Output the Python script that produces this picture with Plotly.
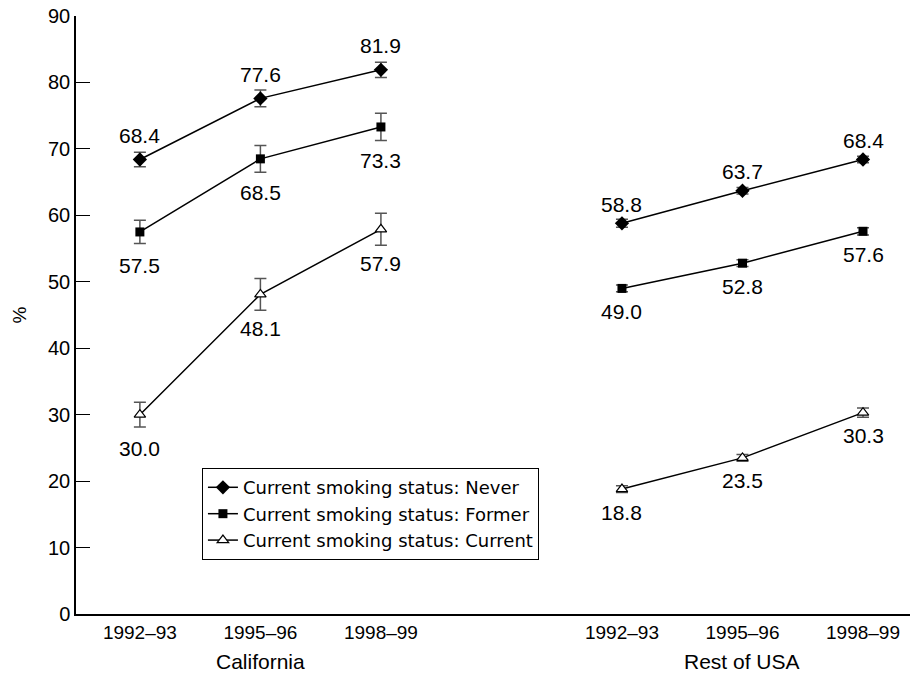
import plotly.graph_objects as go

# ---- data ----
periods = ["1992–93", "1995–96", "1998–99"]
regions = ["California", "Rest of USA"]
x_pos = {"California": [0, 1, 2], "Rest of USA": [4, 5, 6]}

never = {"California": [68.4, 77.6, 81.9], "Rest of USA": [58.8, 63.7, 68.4]}
former = {"California": [57.5, 68.5, 73.3], "Rest of USA": [49.0, 52.8, 57.6]}
current = {"California": [30.0, 48.1, 57.9], "Rest of USA": [18.8, 23.5, 30.3]}

never_err = {"California": [1.1, 1.25, 1.15], "Rest of USA": [0.6, 0.5, 0.5]}
former_err = {"California": [1.75, 2.0, 2.05], "Rest of USA": [0.5, 0.5, 0.55]}
current_err = {"California": [1.85, 2.4, 2.4], "Rest of USA": [0.5, 0.5, 0.7]}

series = [
    ("Current smoking status: Never", never, never_err,
     dict(symbol="diamond", size=11, color="black"), "above"),
    ("Current smoking status: Former", former, former_err,
     dict(symbol="square", size=9, color="black"), "below"),
    ("Current smoking status: Current", current, current_err,
     dict(symbol="triangle-up", size=10, color="white",
          line=dict(color="black", width=1.2)), "below"),
]

FONT = "Liberation Sans"
LEGEND_FONT = "DejaVu Sans"
shift = {"California": {"above": 24, "below": -34},
         "Rest of USA": {"above": 19, "below": -23}}

fig = go.Figure()
annotations = []
for name, vals, errs, marker, pos in series:
    for i, reg in enumerate(regions):
        fig.add_trace(go.Scatter(
            x=x_pos[reg], y=vals[reg], mode="lines+markers", name=name,
            legendgroup=name, showlegend=(i == 0),
            line=dict(color="black", width=1.5),
            marker=marker,
            error_y=dict(type="data", array=errs[reg], visible=True,
                         color="#555555", thickness=1.5, width=6),
        ))
        for xv, yv in zip(x_pos[reg], vals[reg]):
            annotations.append(dict(
                x=xv, y=yv, xref="x", yref="y", text=f"{yv:.1f}",
                showarrow=False, yshift=shift[reg][pos],
                font=dict(family=FONT, size=21, color="black")))

for reg, xs in x_pos.items():
    annotations.append(dict(
        x=xs[1], y=-0.0786, xref="x", yref="paper", text=reg,
        showarrow=False, yanchor="middle",
        font=dict(family=FONT, size=21, color="black")))

tickvals = x_pos["California"] + x_pos["Rest of USA"]
ticktext = periods + periods

fig.update_layout(
    width=910, height=673,
    margin=dict(l=76, r=0, t=16, b=59),
    paper_bgcolor="white", plot_bgcolor="white",
    font=dict(family=FONT, size=18, color="black"),
    showlegend=True,
    legend=dict(x=0.151, y=0.244, xanchor="left", yanchor="top",
                bordercolor="black", borderwidth=1, bgcolor="white",
                font=dict(family=LEGEND_FONT, size=18), tracegroupgap=0,
                itemwidth=30),
    annotations=annotations,
    xaxis=dict(range=[-0.53, 6.39], tickvals=tickvals, ticktext=ticktext,
               showgrid=False, zeroline=False, showline=True,
               linecolor="black", linewidth=1.5, ticks="",
               tickfont=dict(family=FONT, size=19)),
    yaxis=dict(range=[0, 90], dtick=10, showgrid=False, zeroline=False,
               showline=True, linecolor="black", linewidth=1.5,
               ticks="inside", ticklen=14, tickcolor="black", tickwidth=1,
               tickfont=dict(family=FONT, size=20),
               title=dict(text="%", font=dict(family=FONT, size=19), standoff=16)),
)

# remove the default 8px page margin so the figure sits at the window's corner
fig.write_html("out.html", config={"displayModeBar": False},
               post_script="document.body.style.margin='0';")
